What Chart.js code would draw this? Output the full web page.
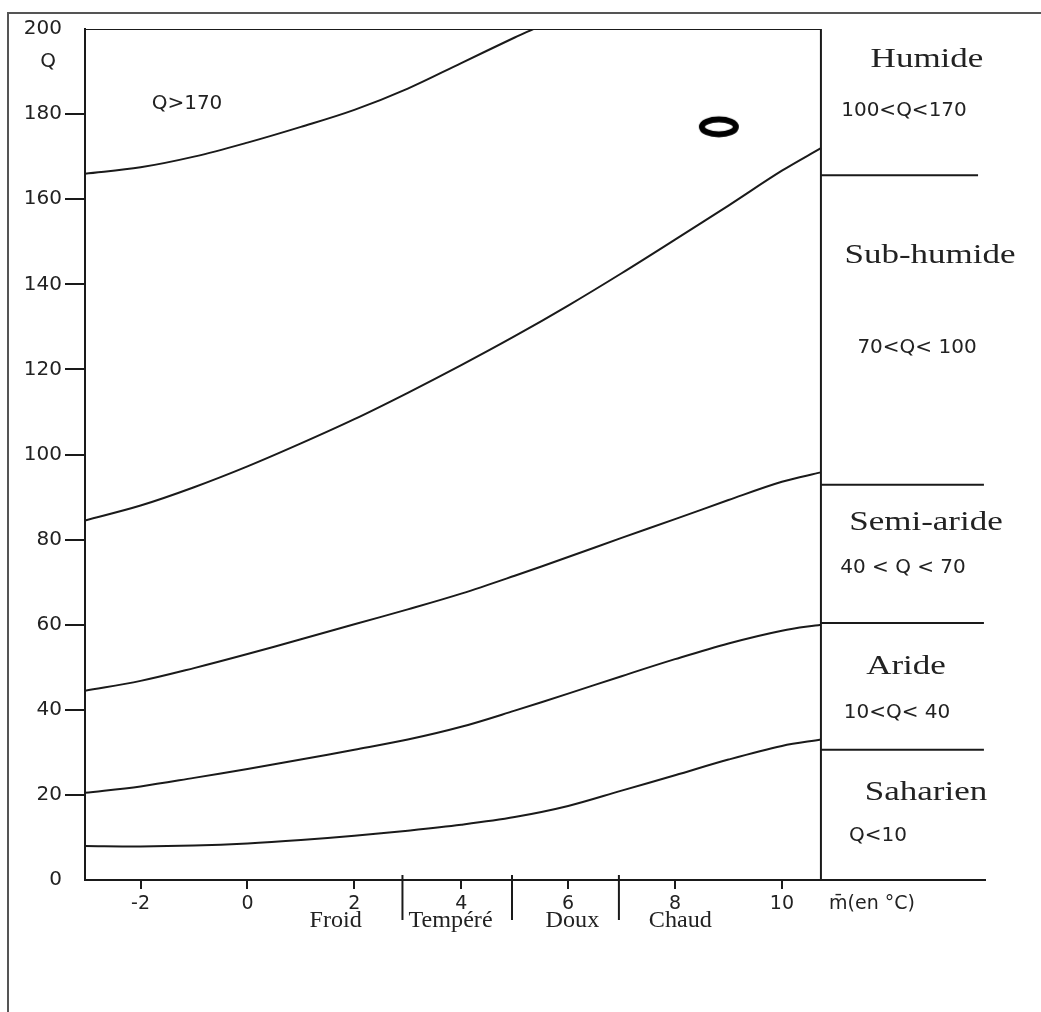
<!DOCTYPE html>
<html>
<head>
<meta charset="utf-8">
<script src="https://cdn.jsdelivr.net/npm/chart.js@4.4.1/dist/chart.umd.min.js"></script>
<style>
  html, body { margin: 0; padding: 0; background: #fff; }
  canvas { display: block; }
</style>
</head>
<body>
<canvas id="climagramme" width="1041" height="1012"></canvas>
<script>
// Climagramme d'Emberger
const mTicks = [-2, 0, 2, 4, 6, 8, 10];
const qTicks = [0, 20, 40, 60, 80, 100, 120, 140, 160, 180, 200];

// abscisses communes des courbes (m en °C)
const mValues = [-3.04, -2, -1, 0, 1, 2, 3, 4, 5, 6, 7, 8, 9, 10, 10.73];

// limite Q>170 (sort du cadre vers m = 5.35)
const humideTopM = [-3.04, -2, -1, 0, 1, 2, 3, 4, 5, 5.35];
const humideTopQ = [166, 167.5, 170, 173.3, 177, 181, 186, 192, 198, 200];

const subHumideQ = [84.5, 88, 92.3, 97.2, 102.6, 108.3, 114.5, 121, 127.8, 135, 142.6, 150.5, 158.5, 166.7, 172];
const semiArideQ = [44.5, 46.8, 49.8, 53.1, 56.6, 60.1, 63.6, 67.3, 71.5, 75.9, 80.4, 84.8, 89.3, 93.6, 95.8];
const arideQ = [20.5, 22, 24, 26.1, 28.3, 30.6, 33, 36, 39.8, 43.8, 47.9, 51.9, 55.6, 58.6, 60];
const saharienQ = [8, 7.9, 8.1, 8.6, 9.4, 10.4, 11.6, 13, 14.8, 17.4, 21, 24.6, 28.3, 31.5, 33];

// cadre et traits de séparation à droite
const frameRightM = 10.73;
const frameLeftM = -3.04;
const zoneLimitQ = [165.6, 92.9, 60.4, 30.6];
const zoneLimitEndM = [13.67, 13.78, 13.78, 13.78];

// étages thermiques
const thermalBounds = [2.9, 4.95, 6.95];
const thermalNames = ['Froid', 'Tempéré', 'Doux', 'Chaud'];
const thermalLabelM = [1.65, 3.8, 6.08, 8.1];

// station
const stationM = [8.82];
const stationQ = [177];

const toPoints = (xs, ys) => xs.map((x, i) => ({ x: x, y: ys[i] }));

const INK = '#1a1a1a';

function curve(label, xs, ys) {
  return {
    label: label,
    data: toPoints(xs, ys),
    showLine: true,
    borderColor: INK,
    borderWidth: 2,
    pointRadius: 0,
    tension: 0.35,
    fill: false
  };
}

function segment(label, pts) {
  return {
    label: label,
    data: pts,
    showLine: true,
    borderColor: INK,
    borderWidth: 2,
    pointRadius: 0,
    tension: 0,
    fill: false
  };
}

// marqueur de la station (ellipse épaisse)
const stationMark = document.createElement('canvas');
stationMark.width = 44;
stationMark.height = 26;
(function () {
  const c = stationMark.getContext('2d');
  c.strokeStyle = '#000';
  c.lineWidth = 6;
  c.beginPath();
  c.ellipse(22, 13, 17, 7.5, 0, 0, Math.PI * 2);
  c.stroke();
})();

const datasets = [
  curve('Q>170', humideTopM, humideTopQ),
  curve('Humide', mValues, subHumideQ),
  curve('Sub-humide', mValues, semiArideQ),
  curve('Semi-aride', mValues, arideQ),
  curve('Aride', mValues, saharienQ),
  segment('cadre haut', [{ x: frameLeftM, y: 200 }, { x: frameRightM, y: 200 }]),
  segment('cadre droit', [{ x: frameRightM, y: 0 }, { x: frameRightM, y: 200 }])
];
zoneLimitQ.forEach((q, i) => {
  datasets.push(segment('limite ' + i, [{ x: frameRightM, y: q }, { x: zoneLimitEndM[i], y: q }]));
});
datasets.push({
  label: 'Station',
  data: toPoints(stationM, stationQ),
  pointStyle: stationMark,
  pointRadius: 10,
  showLine: false
});

function stretchText(ctx, txt, x, y, sx) {
  ctx.save();
  ctx.translate(x, y);
  ctx.scale(sx, 1);
  ctx.fillText(txt, 0, 0);
  ctx.restore();
}

const decorPlugin = {
  id: 'decor',
  beforeDraw(chart) {
    const ctx = chart.ctx;
    ctx.save();
    ctx.fillStyle = '#fff';
    ctx.fillRect(0, 0, chart.width, chart.height);
    ctx.strokeStyle = '#555';
    ctx.lineWidth = 2;
    ctx.beginPath();
    ctx.moveTo(8, chart.height);
    ctx.lineTo(8, 13);
    ctx.lineTo(chart.width, 13);
    ctx.stroke();
    ctx.restore();
  },
  afterDraw(chart) {
    const ctx = chart.ctx;
    const xs = chart.scales.x;
    const bottom = chart.chartArea.bottom;
    ctx.save();
    ctx.fillStyle = '#222';
    ctx.strokeStyle = INK;
    ctx.textAlign = 'center';
    ctx.textBaseline = 'middle';

    // séparations des étages thermiques
    ctx.lineWidth = 2;
    thermalBounds.forEach(m => {
      const px = xs.getPixelForValue(m);
      ctx.beginPath();
      ctx.moveTo(px, bottom - 5);
      ctx.lineTo(px, bottom + 40);
      ctx.stroke();
    });
    ctx.font = '23px "Liberation Serif"';
    thermalNames.forEach((name, i) => {
      stretchText(ctx, name, xs.getPixelForValue(thermalLabelM[i]), bottom + 41, 1.05);
    });

    // titres d'axes
    ctx.font = '19px "DejaVu Sans"';
    ctx.fillText('m\u0304(en °C)', 872, 904);
    ctx.font = '20px "DejaVu Sans"';
    ctx.fillText('Q', 48, 62);
    ctx.fillText('Q>170', 187, 104);

    // étages bioclimatiques
    ctx.font = '28px "Liberation Serif"';
    stretchText(ctx, 'Humide', 927, 60, 1.25);
    stretchText(ctx, 'Sub-humide', 930, 256, 1.25);
    stretchText(ctx, 'Semi-aride', 926, 523, 1.25);
    stretchText(ctx, 'Aride', 906, 667, 1.25);
    stretchText(ctx, 'Saharien', 926, 793, 1.25);

    ctx.font = '20px "DejaVu Sans"';
    ctx.fillText('100<Q<170', 904, 111);
    ctx.fillText('70<Q< 100', 917, 348);
    ctx.fillText('40 < Q < 70', 903, 568);
    ctx.fillText('10<Q< 40', 897, 713);
    ctx.fillText('Q<10', 878, 836);
    ctx.restore();
  }
};

const ctx = document.getElementById('climagramme').getContext('2d');
new Chart(ctx, {
  type: 'scatter',
  data: { datasets: datasets },
  plugins: [decorPlugin],
  options: {
    responsive: false,
    animation: false,
    layout: { padding: { top: 29, right: 56, left: 0, bottom: 0 } },
    plugins: {
      legend: { display: false },
      tooltip: { enabled: false }
    },
    scales: {
      x: {
        type: 'linear',
        min: frameLeftM,
        max: 13.8,
        afterBuildTicks: s => { s.ticks = mTicks.map(v => ({ value: v })); },
        afterFit: s => { s.height = 132; },
        border: { display: true, color: INK, width: 2 },
        grid: { drawOnChartArea: false, drawTicks: true, tickLength: 9, color: INK, lineWidth: 2 },
        ticks: {
          color: '#222',
          padding: 4,
          maxRotation: 0,
          font: { family: 'DejaVu Sans', size: 19 },
          callback: v => String(v)
        }
      },
      y: {
        type: 'linear',
        min: 0,
        max: 200,
        afterBuildTicks: s => { s.ticks = qTicks.map(v => ({ value: v })); },
        afterFit: s => { s.width = 85; },
        border: { display: true, color: INK, width: 2 },
        grid: {
          drawOnChartArea: false,
          drawTicks: true,
          tickLength: 20,
          lineWidth: 2,
          color: c => (c.tick && (c.tick.value === 0 || c.tick.value === 200)) ? 'rgba(0,0,0,0)' : INK
        },
        ticks: {
          color: '#222',
          padding: 3,
          font: { family: 'DejaVu Sans', size: 20 },
          callback: v => String(v)
        }
      }
    }
  }
});
</script>
</body>
</html>
